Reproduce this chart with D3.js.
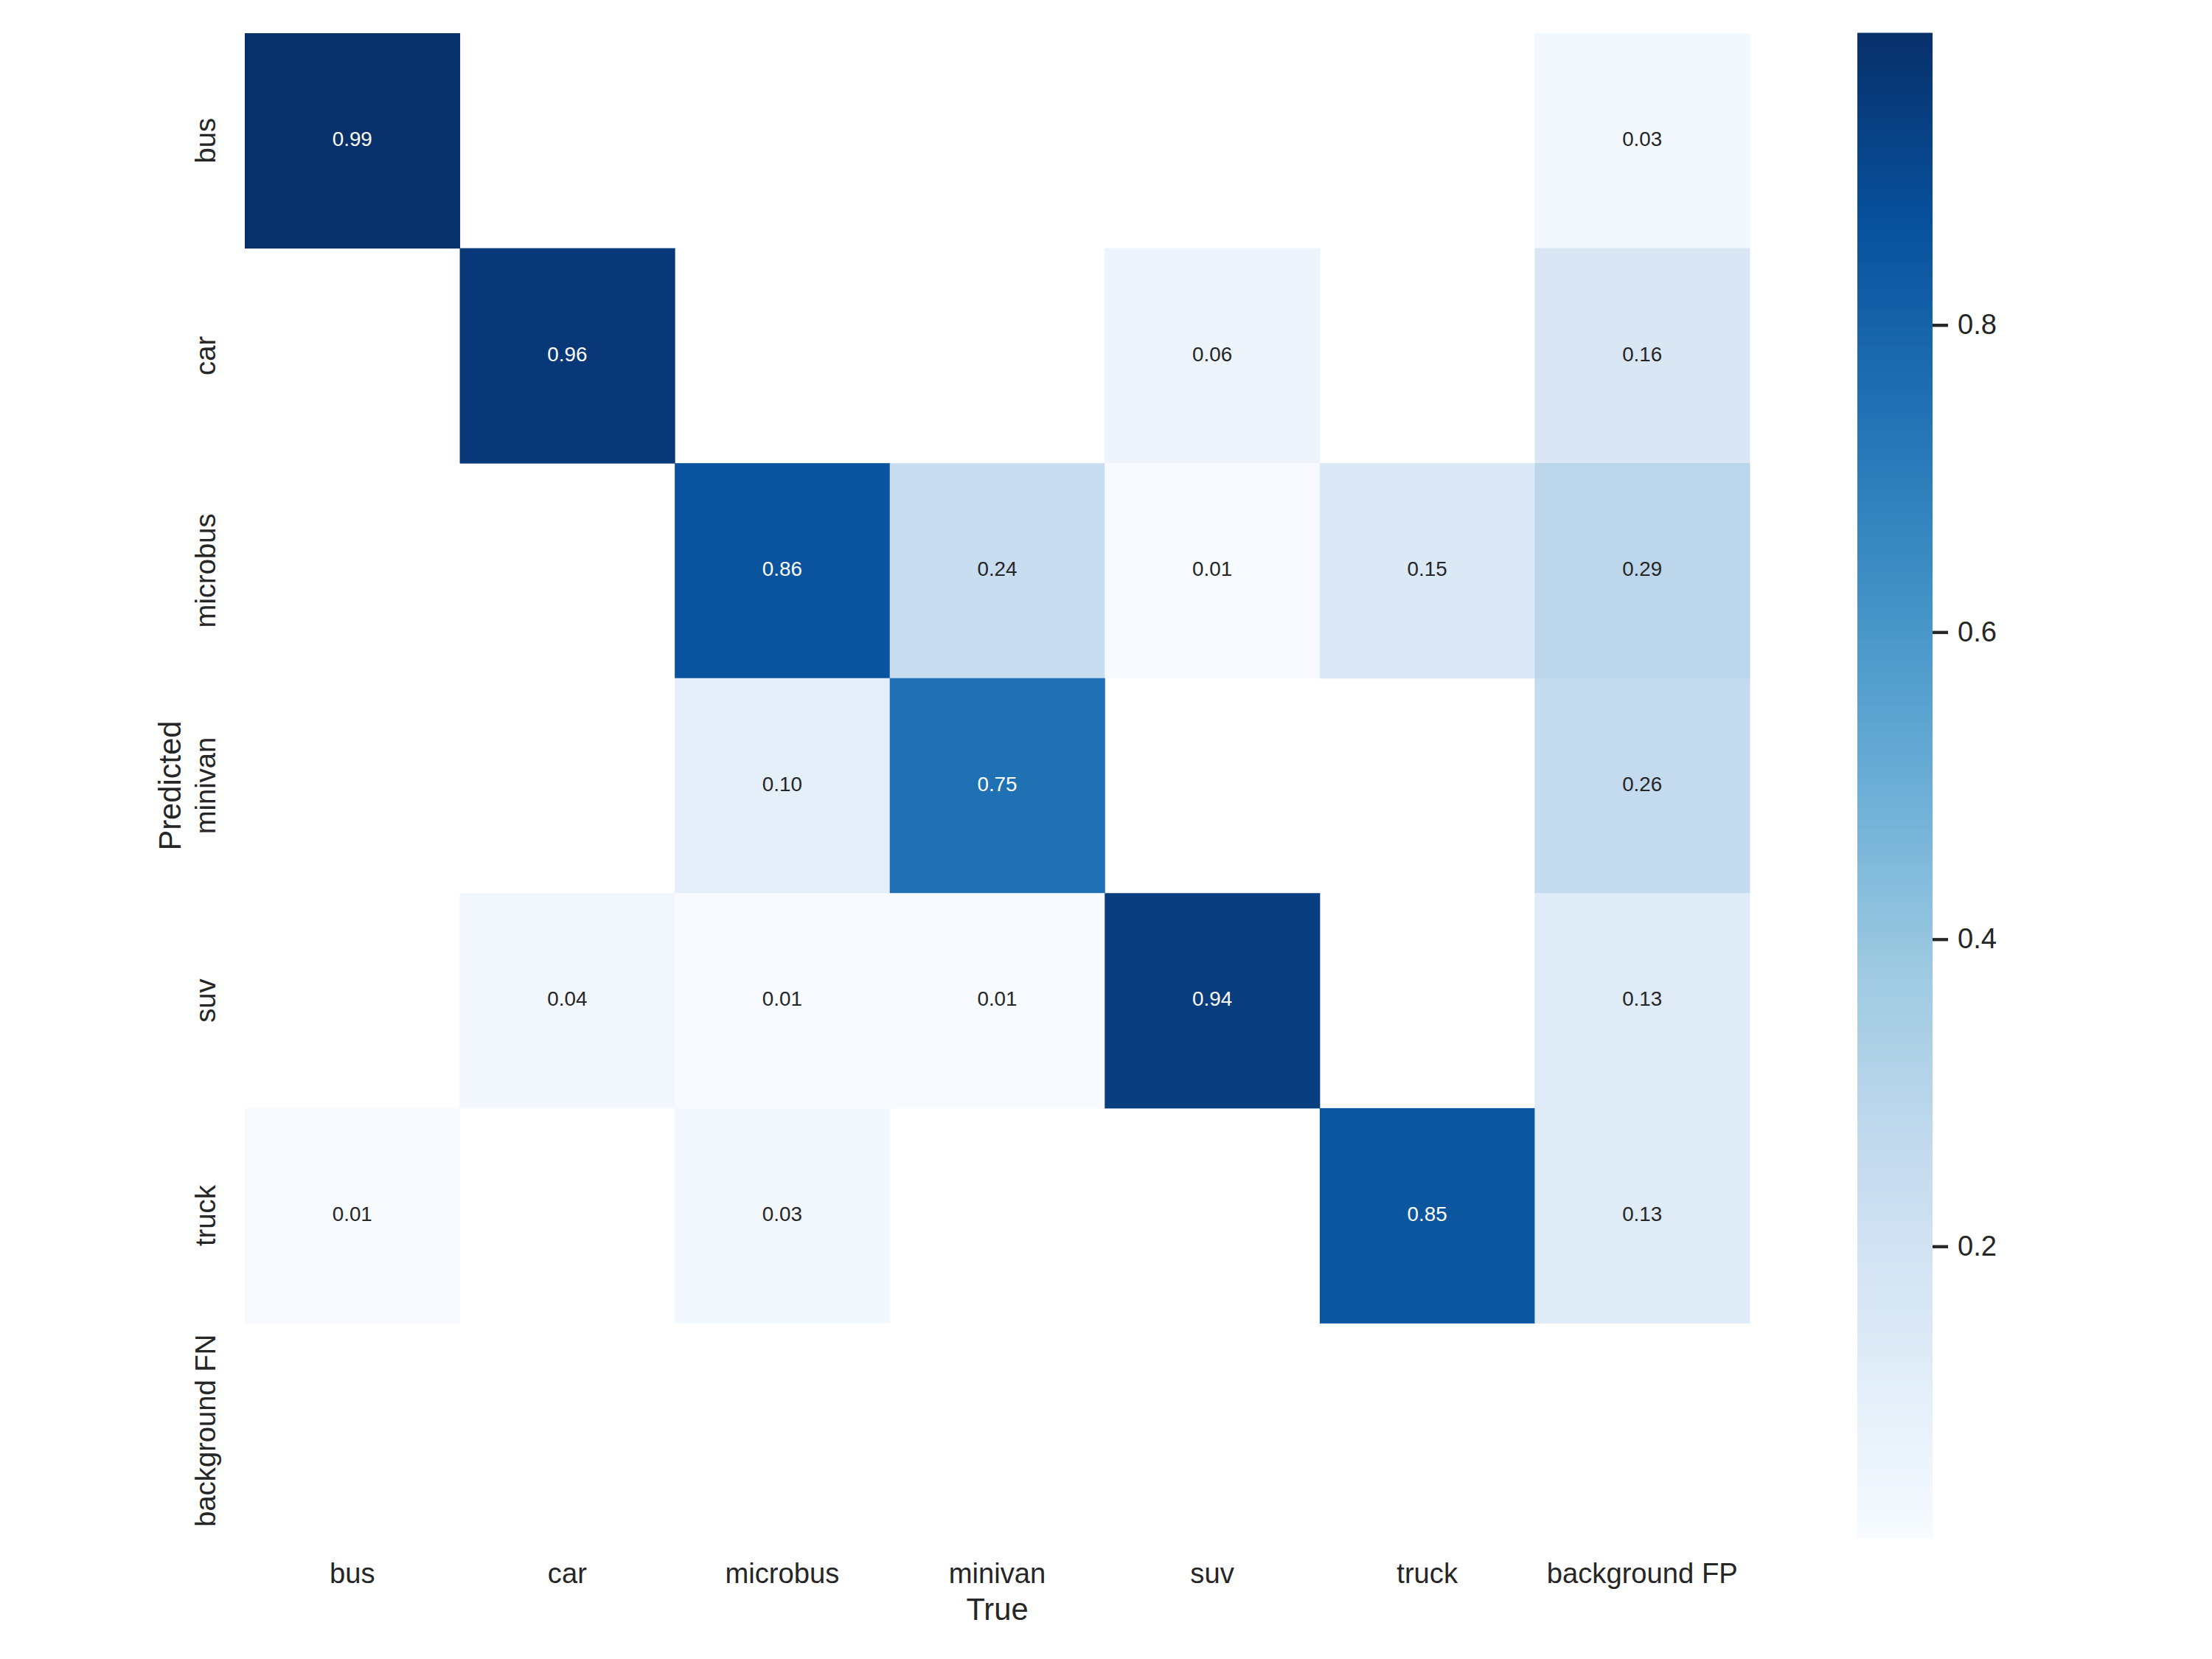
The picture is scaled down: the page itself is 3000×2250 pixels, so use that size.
<!DOCTYPE html>
<html>
<head>
<meta charset="utf-8">
<script src="https://cdn.jsdelivr.net/npm/d3@7"></script>
<style>
  body { margin: 0; background: #fff; }
  text { font-family: "Liberation Sans", Arial, sans-serif; fill: #262626; }
</style>
</head>
<body>
<div id="chart"></div>
<script>
// confusion matrix, rows = predicted, cols = true (null = empty cell)
const predictedLabels = ["bus", "car", "microbus", "minivan", "suv", "truck", "background FN"];
const trueLabels = ["bus", "car", "microbus", "minivan", "suv", "truck", "background FP"];
const matrix = [
  [0.99, null, null, null, null, null, 0.03],
  [null, 0.96, null, null, 0.06, null, 0.16],
  [null, null, 0.86, 0.24, 0.01, 0.15, 0.29],
  [null, null, 0.10, 0.75, null, null, 0.26],
  [null, 0.04, 0.01, 0.01, 0.94, null, 0.13],
  [0.01, null, 0.03, null, null, 0.85, 0.13],
  [null, null, null, null, null, null, null]
];
const colorbarTicks = [0.2, 0.4, 0.6, 0.8];
const blues = ["#f7fbff", "#deebf7", "#c6dbef", "#9ecae1", "#6baed6",
               "#4292c6", "#2171b5", "#08519c", "#08306b"];

const W = 3000, H = 2250;
const plotLeft = 332, plotTop = 45, plotRight = 2373, plotBottom = 2086;
const cbLeft = 2519, cbWidth = 102;

const svg = d3.select("#chart").append("svg")
  .attr("width", W)
  .attr("height", H);
svg.append("rect").attr("width", W).attr("height", H).attr("fill", "#fff");

const cells = [];
matrix.forEach((row, i) => row.forEach((v, j) => {
  if (v !== null) cells.push({pred: predictedLabels[i], tru: trueLabels[j], v: v});
}));
const [vmin, vmax] = d3.extent(cells, d => d.v);

const color = d3.scaleLinear()
  .domain(blues.map((c, i) => vmin + i / (blues.length - 1) * (vmax - vmin)))
  .range(blues)
  .clamp(true);

const x = d3.scaleBand().domain(trueLabels).range([plotLeft, plotRight]);
const y = d3.scaleBand().domain(predictedLabels).range([plotTop, plotBottom]);

svg.append("g").selectAll("rect")
  .data(cells)
  .enter()
  .append("rect")
    .attr("x", d => x(d.tru))
    .attr("y", d => y(d.pred))
    .attr("width", x.bandwidth() + 0.5)
    .attr("height", y.bandwidth() + 0.5)
    .attr("fill", d => color(d.v));

// luminance rule like seaborn for annotation colour
const lum = c => {
  const rgb = d3.rgb(c);
  const f = u => { u /= 255; return u <= 0.03928 ? u / 12.92 : Math.pow((u + 0.055) / 1.055, 2.4); };
  return 0.2126 * f(rgb.r) + 0.7152 * f(rgb.g) + 0.0722 * f(rgb.b);
};

svg.append("g").selectAll("text")
  .data(cells)
  .enter()
  .append("text")
    .attr("x", d => x(d.tru) + x.bandwidth() / 2)
    .attr("y", d => y(d.pred) + y.bandwidth() / 2)
    .attr("dy", "0.26em")
    .attr("text-anchor", "middle")
    .style("font-size", "27.8px")
    .style("fill", d => lum(color(d.v)) > 0.408 ? "#262626" : "#ffffff")
    .text(d => d.v.toFixed(2));

// x axis
const xAxis = svg.append("g")
  .attr("transform", "translate(0," + plotBottom + ")")
  .call(d3.axisBottom(x).tickSize(0).tickPadding(34));
xAxis.select(".domain").remove();
xAxis.selectAll("text")
  .style("font-size", "38.2px")
  .attr("font-family", null)
  .attr("fill", null);

// y axis, labels rotated
const yAxis = svg.append("g")
  .attr("transform", "translate(" + plotLeft + ",0)")
  .call(d3.axisLeft(y).tickSize(0));
yAxis.select(".domain").remove();
yAxis.selectAll("text")
  .attr("x", 0)
  .attr("y", 0)
  .attr("dy", 0)
  .attr("transform", "translate(-40,0) rotate(-90)")
  .attr("text-anchor", "middle")
  .attr("fill", null)
  .attr("font-family", null)
  .style("font-size", "38.2px");
svg.selectAll("g").attr("font-family", null);

svg.append("text")
  .attr("x", (plotLeft + plotRight) / 2)
  .attr("y", 2197)
  .attr("text-anchor", "middle")
  .style("font-size", "41.7px")
  .text("True");

svg.append("text")
  .attr("transform", "translate(245," + (plotTop + plotBottom) / 2 + ") rotate(-90)")
  .attr("text-anchor", "middle")
  .style("font-size", "41.7px")
  .text("Predicted");

// colorbar
const cScale = d3.scaleLinear().domain([vmin, vmax]).range([plotBottom, plotTop]);
const steps = d3.range(256).map(i => vmin + (i + 0.5) / 256 * (vmax - vmin));
const stepH = (plotBottom - plotTop) / 256;
svg.append("g").selectAll("rect")
  .data(steps)
  .enter()
  .append("rect")
    .attr("x", cbLeft)
    .attr("y", d => cScale(d) - stepH / 2 - 0.5)
    .attr("width", cbWidth)
    .attr("height", stepH + 1)
    .attr("fill", d => color(d));

const cAxis = svg.append("g")
  .attr("transform", "translate(" + (cbLeft + cbWidth) + ",0)")
  .call(d3.axisRight(cScale).tickValues(colorbarTicks).tickSize(21).tickPadding(13).tickFormat(d3.format(".1f")));
cAxis.attr("font-family", null);
cAxis.select(".domain").remove();
cAxis.selectAll("line").attr("stroke", "#262626").attr("stroke-width", 4.3);
cAxis.selectAll("text")
  .attr("fill", null)
  .style("font-size", "38.2px");
</script>
</body>
</html>
